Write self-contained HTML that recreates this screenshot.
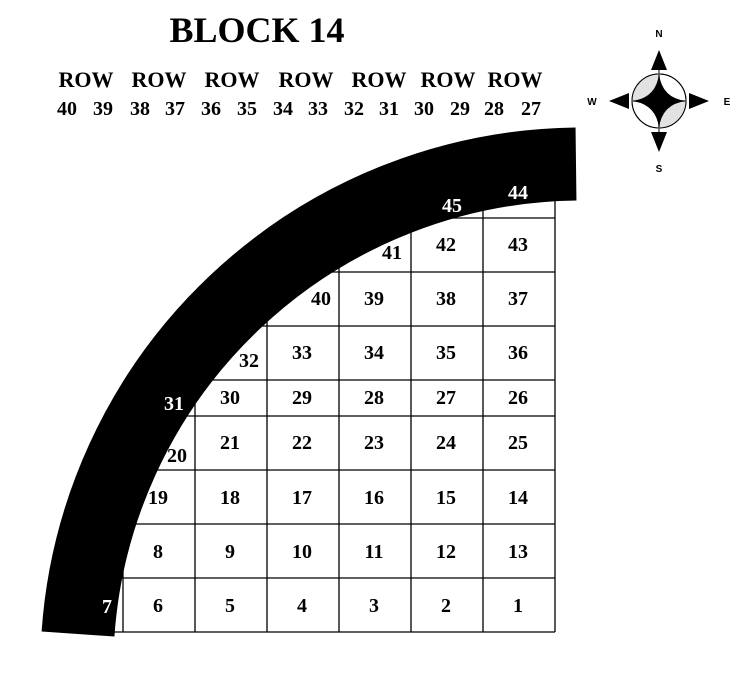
<!DOCTYPE html>
<html><head><style>
body{margin:0;background:#fff}
svg text{font-family:"Liberation Serif",serif;font-weight:bold}
svg text.s{font-family:"Liberation Sans",sans-serif}
</style></head><body>
<svg width="732" height="674" viewBox="0 0 732 674" xmlns="http://www.w3.org/2000/svg">
<text x="257" y="42" font-size="36" text-anchor="middle">BLOCK 14</text>
<g font-size="22" text-anchor="middle">
<text x="86" y="87">ROW</text><text x="159" y="87">ROW</text><text x="232" y="87">ROW</text><text x="306" y="87">ROW</text><text x="379" y="87">ROW</text><text x="448" y="87">ROW</text><text x="515" y="87">ROW</text>
</g>
<g font-size="20" text-anchor="middle">
<text x="67" y="115">40</text><text x="103" y="115">39</text><text x="140" y="115">38</text><text x="175" y="115">37</text><text x="211" y="115">36</text><text x="247" y="115">35</text><text x="283" y="115">34</text><text x="318" y="115">33</text><text x="354" y="115">32</text><text x="389" y="115">31</text><text x="424" y="115">30</text><text x="460" y="115">29</text><text x="494" y="115">28</text><text x="531" y="115">27</text>
</g>
<defs><clipPath id="c"><circle cx="582" cy="671.5" r="472"/></clipPath></defs>
<g clip-path="url(#c)" stroke="#000" stroke-width="1.3" fill="none">
<line x1="100" y1="632" x2="555" y2="632"/>
<line x1="100" y1="578" x2="555" y2="578"/>
<line x1="100" y1="524" x2="555" y2="524"/>
<line x1="100" y1="470" x2="555" y2="470"/>
<line x1="100" y1="416" x2="555" y2="416"/>
<line x1="100" y1="380" x2="555" y2="380"/>
<line x1="100" y1="326" x2="555" y2="326"/>
<line x1="100" y1="272" x2="555" y2="272"/>
<line x1="100" y1="218" x2="555" y2="218"/>
<line x1="123" y1="150" x2="123" y2="632"/>
<line x1="195" y1="150" x2="195" y2="632"/>
<line x1="267" y1="150" x2="267" y2="632"/>
<line x1="339" y1="150" x2="339" y2="632"/>
<line x1="411" y1="150" x2="411" y2="632"/>
<line x1="483" y1="150" x2="483" y2="632"/>
<line x1="555" y1="150" x2="555" y2="632"/>
</g>
<path d="M78,634 A505.5,505.5 0 0 1 576,164" stroke="#000" stroke-width="73" fill="none"/>
<g font-size="20" text-anchor="middle">
<text x="518" y="612">1</text><text x="446" y="612">2</text><text x="374" y="612">3</text><text x="302" y="612">4</text><text x="230" y="612">5</text><text x="158" y="612">6</text>
<text x="158" y="558">8</text><text x="230" y="558">9</text><text x="302" y="558">10</text><text x="374" y="558">11</text><text x="446" y="558">12</text><text x="518" y="558">13</text>
<text x="518" y="504">14</text><text x="446" y="504">15</text><text x="374" y="504">16</text><text x="302" y="504">17</text><text x="230" y="504">18</text><text x="158" y="504">19</text>
<text x="177" y="462">20</text><text x="230" y="449">21</text><text x="302" y="449">22</text><text x="374" y="449">23</text><text x="446" y="449">24</text><text x="518" y="449">25</text>
<text x="518" y="404">26</text><text x="446" y="404">27</text><text x="374" y="404">28</text><text x="302" y="404">29</text><text x="230" y="404">30</text>
<text x="249" y="367">32</text><text x="302" y="359">33</text><text x="374" y="359">34</text><text x="446" y="359">35</text><text x="518" y="359">36</text>
<text x="518" y="305">37</text><text x="446" y="305">38</text><text x="374" y="305">39</text><text x="321" y="305">40</text>
<text x="392" y="259">41</text><text x="446" y="251">42</text><text x="518" y="251">43</text>
</g>
<g font-size="20" text-anchor="middle" fill="#fff">
<text x="518" y="199">44</text><text x="452" y="212">45</text><text x="174" y="410">31</text><text x="107" y="613">7</text>
</g>
<g>
<circle cx="659" cy="101" r="27" fill="#fff" stroke="#000" stroke-width="1"/>
<path d="M659,101 L659,74 A27,27 0 0 0 632,101 Z" fill="#e2e2e2"/>
<path d="M659,101 L686,101 A27,27 0 0 1 659,128 Z" fill="#e2e2e2"/>
<circle cx="659" cy="101" r="27" fill="none" stroke="#000" stroke-width="1"/>
<line x1="632" y1="101" x2="686" y2="101" stroke="#555" stroke-width="1.5"/>
<line x1="659" y1="70" x2="659" y2="132" stroke="#555" stroke-width="1.5"/>
<path d="M659,74 Q662,98 686,101 Q662,104 659,128 Q656,104 632,101 Q656,98 659,74 Z" fill="#000"/>
<polygon points="659,50 651,70 667,70" fill="#000"/>
<polygon points="659,152 651,132 667,132" fill="#000"/>
<polygon points="609,101 629,93 629,109" fill="#000"/>
<polygon points="709,101 689,93 689,109" fill="#000"/>
<g font-size="10" text-anchor="middle">
<text class="s" x="659" y="37">N</text><text class="s" x="659" y="172">S</text><text class="s" x="592" y="105">W</text><text class="s" x="727" y="105">E</text>
</g>
</g>
</svg>
</body></html>
